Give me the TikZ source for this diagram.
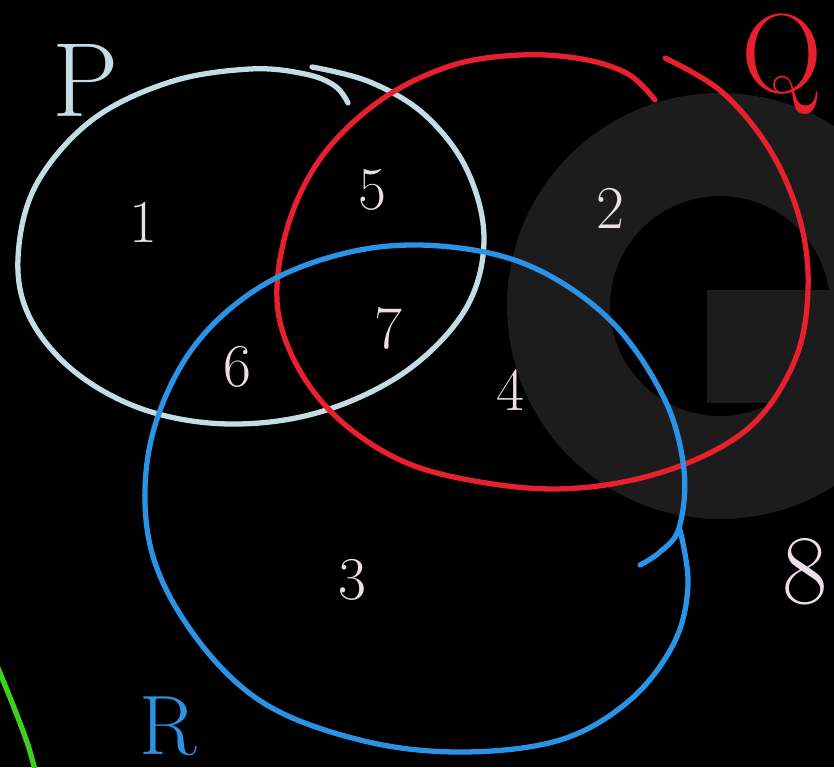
\documentclass[tikz,border=0pt]{standalone}
\usepackage{tikz}

\definecolor{pcol}{HTML}{C4DCE6}
\definecolor{qcol}{HTML}{E8202E}
\definecolor{rcol}{HTML}{2A93E6}
\definecolor{gcol}{HTML}{3CD11C}
\definecolor{digcol}{HTML}{EADFE8}
\definecolor{wmcol}{HTML}{1C1C1C}

\begin{document}
\begin{tikzpicture}[
  x=0.01cm, y=-0.01cm,
  setline/.style={line width=1.5pt, line cap=round, line join=round},
  digit/.style={text=digcol, font=\LARGE},
  setlabel/.style={inner sep=0pt, font=\fontsize{30}{34}\selectfont},
]
  % background and faint watermark
  \fill[black] (0,0) rectangle (834,767);
  \useasboundingbox (0,0) rectangle (834,767);
  \fill[wmcol, even odd rule] (720,306) circle[radius=213] (720,306) circle[radius=110];
  \begin{scope}
    \clip (720,306) circle[radius=111];
    \fill[wmcol] (707,290) rectangle (840,403);
  \end{scope}

  % green arc at the corner
  \draw[setline, gcol] plot[smooth] coordinates {(-2,668) (15,710) (28,745) (35,770)};

  % set P
  \draw[setline, pcol] plot[smooth, tension=0.6] coordinates {
    (312,67) (370,82) (425,115) (467,170) (484,240) (465,310) (405,372)
    (320,412) (230,424) (145,410) (75,372) (30,318) (18,258) (36,185)
    (92,120) (170,82) (250,69) (305,74) (335,86) (348,103)};

  % set Q
  \draw[setline, qcol] plot[smooth, tension=0.6] coordinates {
    (665,58) (722,92) (770,150) (800,220) (808,290) (795,360) (752,425)
    (680,466) (590,487) (500,485) (400,460) (322,402) (280,322) (284,240)
    (318,162) (378,102) (450,66) (520,55) (582,59) (628,74) (655,100)};

  % set R
  \draw[setline, rcol] plot[smooth, tension=0.6] coordinates {
    (680,530) (688,585) (674,643) (630,700) (560,740) (460,752) (360,740)
    (262,702) (192,632) (150,545) (150,445) (190,352) (260,287) (350,252)
    (440,246) (530,266) (610,320) (664,398) (684,470) (679,528) (660,552)
    (640,565)};

  % set labels
  \node[setlabel, text=pcol] (lblP) at (86,80) {P};
  \node[setlabel, text=qcol, font=\fontsize{32}{36}\selectfont] (lblQ) at (782,64) {Q};
  \node[setlabel, text=rcol, font=\fontsize{24}{28}\selectfont] (lblR) at (168,726) {R};

  % region counts
  \node[digit] (n1) at (143,222) {1};
  \node[digit] (n5) at (372,190) {5};
  \node[digit] (n2) at (610,208) {2};
  \node[digit] (n7) at (388,328) {7};
  \node[digit] (n6) at (237,367) {6};
  \node[digit] (n4) at (510,390) {4};
  \node[digit] (n3) at (352,580) {3};
  \node[digit, font=\fontsize{28}{32}\selectfont] (n8) at (805,572) {8};
\end{tikzpicture}
\end{document}
